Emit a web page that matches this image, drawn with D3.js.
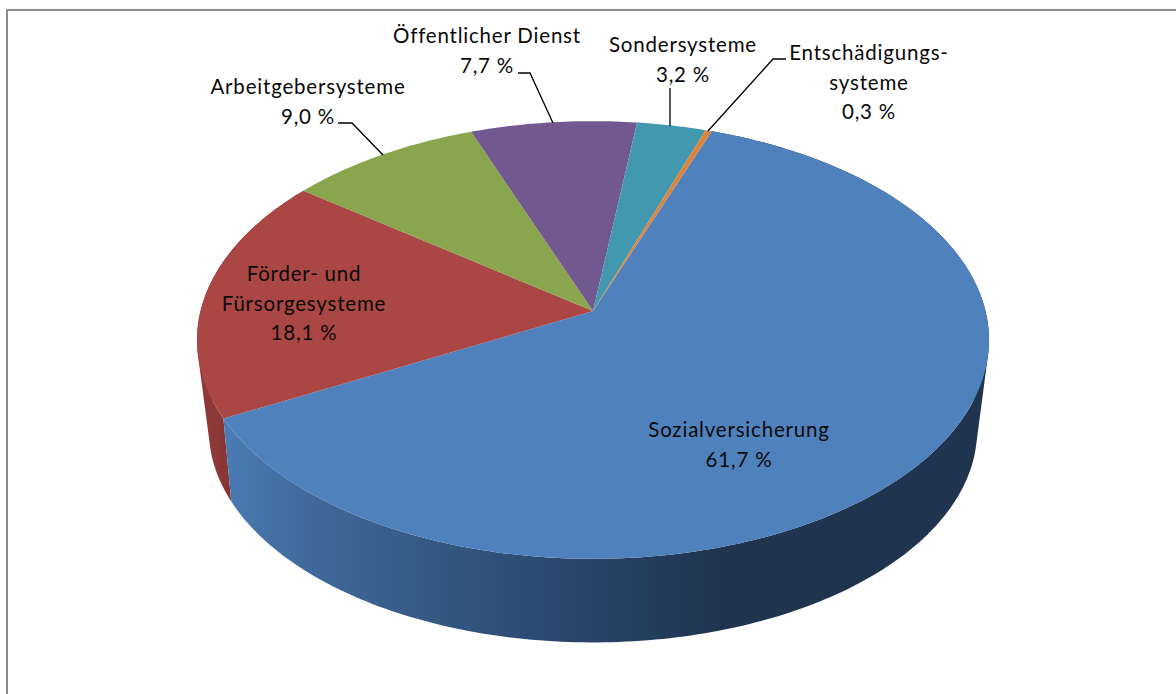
<!DOCTYPE html>
<html>
<head>
<meta charset="utf-8">
<script src="https://cdn.jsdelivr.net/npm/d3@7"></script>
<style>
  html, body { margin: 0; padding: 0; background: #fff; }
  svg { display: block; }
  text { font-family: Lato, "Open Sans", sans-serif; font-size: 20.5px; letter-spacing: 0.8px; fill: #0a0a0a; }
</style>
</head>
<body>
<div id="chart"></div>
<script>
const categories = [
  ["Sozialversicherung"],
  ["Förder- und", "Fürsorgesysteme"],
  ["Arbeitgebersysteme"],
  ["Öffentlicher Dienst"],
  ["Sondersysteme"],
  ["Entschädigungs-", "systeme"]
];
const shares = [61.7, 18.1, 9.0, 7.7, 3.2, 0.3];
const topColors = ["#4f81bd", "#aa4643", "#89a54e", "#71588f", "#4198af", "#db843d"];

const width = 1176, height = 694;
const svg = d3.select("#chart").append("svg").attr("width", width).attr("height", height);

// Frame: only the top and left edges are in the picture
svg.append("path").attr("d", d3.line()([[7, height], [7, 10], [width, 10]]))
  .attr("fill", "none").attr("stroke", "#8c8c8c").attr("stroke-width", 2);

const toRad = Math.PI / 180;
const startAngle = 19.9 * toRad;
const slices = d3.pie().sort(null).value(d => d)
  .startAngle(startAngle).endAngle(startAngle + 2 * Math.PI)(shares);

// perspective projection of the tilted disc
const cx = 593, cy = 311, a = 392.5, b = 215, k = 0.1325;
const project = (t) => {
  const u = Math.sin(t), v = Math.cos(t), w = 1 + k * v;
  return [a * u / w, -b * v / w];
};
const topRim = (t) => { const p = project(t); return [cx + p[0], cy + p[1]]; };
// lower rim sits further from the camera, so it is a bit smaller and slightly turned
const bottomRim = (t) => { const p = project(t + 1.3 * toRad); return [cx + 0.97 * p[0], 402 + 0.97 * p[1]]; };
const arcSteps = (s, e) => d3.range(0, 1.0001, 1 / Math.max(2, Math.ceil((e - s) * 60))).map(f => s + (e - s) * f);

const line = d3.line();

// Side wall shading
const defs = svg.append("defs");
const blueWall = defs.append("linearGradient").attr("id", "wallBlue")
  .attr("gradientUnits", "userSpaceOnUse").attr("x1", 222).attr("x2", 720).attr("y1", 0).attr("y2", 0);
[[0, "#4a7cb5"], [0.2, "#3f6797"], [0.55, "#2f5079"], [1, "#1f344f"]]
  .forEach(s => blueWall.append("stop").attr("offset", s[0]).attr("stop-color", s[1]));
const redWall = defs.append("linearGradient").attr("id", "wallRed")
  .attr("gradientUnits", "userSpaceOnUse").attr("x1", 200).attr("x2", 232).attr("y1", 0).attr("y2", 0);
[[0, "#933c3a"], [1, "#853533"]]
  .forEach(s => redWall.append("stop").attr("offset", s[0]).attr("stop-color", s[1]));

const wallPath = (s) => {
  const ts = arcSteps(s.startAngle, s.endAngle);
  return d3.pairs(ts).map(([t0, t1]) => {
    const quad = [topRim(t0), topRim(t1), bottomRim(t1), bottomRim(t0)];
    // keep every quad the same way round so overlaps don't cancel out
    if (d3.polygonArea(quad) < 0) quad.reverse();
    return line(quad) + "Z";
  }).join("");
};

// walls: only red and blue face the viewer
svg.append("path").attr("d", wallPath(slices[1])).attr("fill", "url(#wallRed)");
svg.append("path").attr("d", wallPath(slices[0])).attr("fill", "url(#wallBlue)");

// top faces
svg.selectAll("path.face").data(slices).enter().append("path")
  .attr("class", "face")
  .attr("d", s => line([[cx, cy], ...arcSteps(s.startAngle, s.endAngle).map(topRim)]) + "Z")
  .attr("fill", (s, i) => topColors[i]);

// Leader lines
const leaders = [
  [[338, 123], [352, 123], [383, 155]],
  [[518, 73], [530, 73], [553, 123]],
  [[670, 88], [670, 126]],
  [[786, 59], [773, 59], [708, 131]]
];
svg.selectAll("path.leader").data(leaders).enter().append("path")
  .attr("class", "leader").attr("d", d => line(d))
  .attr("fill", "none").attr("stroke", "#000").attr("stroke-width", 1.3);

// Labels
const fmt = d3.formatLocale({ decimal: ",", thousands: ".", grouping: [3], currency: ["", "€"] }).format(".1f");
const labelPos = [[739, 437], [304, 281], [308, 94], [487, 43], [683, 52], [869, 60]];
categories.forEach((rows, i) => {
  const t = svg.append("text").attr("text-anchor", "middle");
  [...rows, `${fmt(shares[i])} %`].forEach((r, j) => {
    t.append("tspan").attr("x", labelPos[i][0]).attr("y", labelPos[i][1] + j * 29.5).text(r);
  });
});
</script>
</body>
</html>
